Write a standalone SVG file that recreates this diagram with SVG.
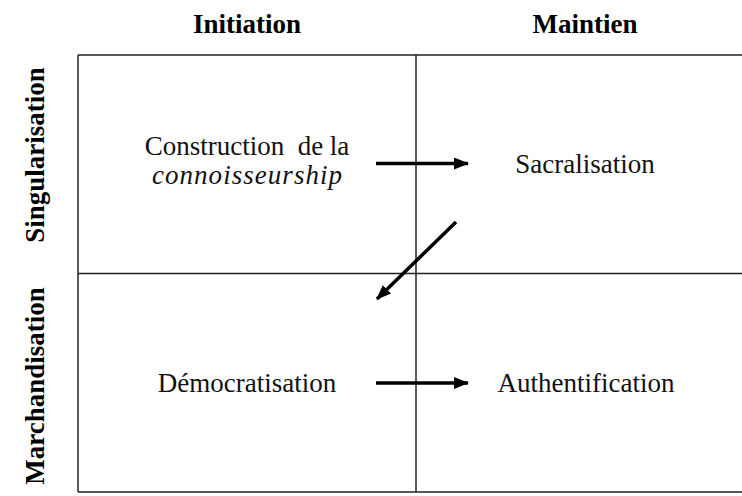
<svg xmlns="http://www.w3.org/2000/svg" width="742" height="496" viewBox="0 0 742 496">
<style>
.grid{stroke:#222;stroke-width:1.5;fill:none}
.hdr{font-family:"Liberation Serif","Times New Roman",serif;font-weight:bold;font-size:27px;fill:#000;text-anchor:middle}
.lbl{font-family:"Liberation Serif","Times New Roman",serif;font-size:27px;fill:#111;text-anchor:middle}
.it{font-family:"Liberation Serif","Times New Roman",serif;font-style:italic;font-size:27px;fill:#111;text-anchor:middle}
.arr{stroke:#000;stroke-width:3.5;fill:none;marker-end:url(#ah)}
</style>
<defs>
<marker id="ah" markerUnits="userSpaceOnUse" markerWidth="15" markerHeight="12" refX="14" refY="6" orient="auto">
<path d="M0,0 L15,6 L0,12 Z" fill="#000"/>
</marker>
</defs>
<rect width="742" height="496" fill="#fff"/>
<g id="grid">
<line class="grid" x1="78" y1="55" x2="742" y2="55"/>
<line class="grid" x1="78" y1="273.5" x2="742" y2="273.5"/>
<line class="grid" x1="78" y1="492" x2="742" y2="492"/>
<line class="grid" x1="78" y1="55" x2="78" y2="492" stroke="#666"/>
<line class="grid" x1="416" y1="55" x2="416" y2="492"/>
</g>
<g id="headers">
<text class="hdr" x="247" y="33">Initiation</text>
<text class="hdr" x="585" y="33">Maintien</text>
<text class="hdr" transform="translate(44,155) rotate(-90)">Singularisation</text>
<text class="hdr" transform="translate(44,386) rotate(-90)" font-size="28">Marchandisation</text>
</g>
<g id="construction">
<text class="lbl" x="247" y="155" xml:space="preserve">Construction  de la</text>
<text class="it" x="247" y="183.5" textLength="190" lengthAdjust="spacing">connoisseurship</text>
</g>
<g id="sacralisation">
<text class="lbl" x="585" y="173">Sacralisation</text>
</g>
<g id="democratisation">
<text class="lbl" x="247" y="392">Démocratisation</text>
</g>
<g id="authentification">
<text class="lbl" x="586" y="392">Authentification</text>
</g>
<g id="connectors">
<line class="arr" x1="376" y1="163.5" x2="468" y2="163.5"/>
<line class="arr" x1="456" y1="222" x2="377" y2="299"/>
<line class="arr" x1="376" y1="383" x2="468" y2="383"/>
</g>
</svg>
